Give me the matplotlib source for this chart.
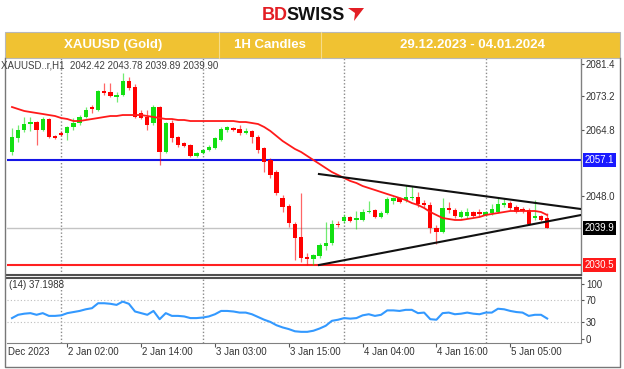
import matplotlib
matplotlib.use('Agg')
import matplotlib.pyplot as plt
from matplotlib.patches import Rectangle, Polygon
from matplotlib.lines import Line2D
from matplotlib.transforms import blended_transform_factory

plt.rcParams['font.family'] = ['Liberation Sans', 'DejaVu Sans']

W, H = 624, 369

# ---------------- data ----------------
opens = [2059.13, 2062.67, 2064.70, 2066.22, 2066.73, 2064.70, 2067.49, 2063.18, 2063.94, 2063.94,
         2065.46, 2066.48, 2068.00, 2070.53, 2069.77, 2074.58, 2074.33, 2073.06, 2073.57, 2077.12,
         2075.60, 2069.01, 2068.00, 2066.48, 2070.53, 2059.13, 2066.48, 2062.93, 2061.41, 2060.90,
         2058.11, 2058.87, 2059.63, 2060.14, 2062.17, 2064.70, 2065.21, 2064.96, 2063.94, 2064.45,
         2062.93, 2060.14, 2057.10, 2054.06, 2047.47, 2045.44, 2040.88, 2037.59, 2032.52, 2032.01,
         2032.77, 2035.31, 2036.07, 2040.88, 2041.64, 2042.66, 2041.90, 2041.90, 2043.92, 2044.43,
         2042.66, 2043.67, 2046.71, 2047.47, 2046.96, 2047.47, 2047.72, 2046.20, 2045.70, 2039.87,
         2038.86, 2044.94, 2044.43, 2042.66, 2042.91, 2043.92, 2043.92, 2043.16, 2043.67, 2043.92,
         2045.70, 2046.20, 2045.19, 2044.68, 2044.43, 2042.40, 2042.91, 2042.42]
highs = [2065.21, 2065.97, 2068.00, 2068.00, 2067.00, 2068.00, 2067.74, 2063.44, 2064.45, 2065.72,
         2067.74, 2068.50, 2070.53, 2071.04, 2074.84, 2076.61, 2076.61, 2074.33, 2079.15, 2078.13,
         2076.36, 2069.77, 2069.77, 2071.04, 2070.78, 2066.73, 2067.24, 2063.18, 2061.66, 2061.15,
         2059.13, 2059.89, 2060.90, 2062.93, 2065.46, 2065.72, 2065.46, 2065.97, 2065.21, 2064.70,
         2063.44, 2060.39, 2057.61, 2054.57, 2048.23, 2045.95, 2041.39, 2048.74, 2033.53, 2033.28,
         2036.07, 2041.39, 2041.90, 2041.64, 2043.42, 2042.91, 2044.18, 2044.68, 2046.71, 2044.68,
         2044.18, 2047.72, 2047.72, 2047.72, 2050.76, 2050.51, 2049.00, 2046.96, 2046.46, 2040.63,
         2047.47, 2046.46, 2044.94, 2044.43, 2044.94, 2044.18, 2044.68, 2044.18, 2045.95, 2047.47,
         2047.47, 2046.71, 2045.70, 2045.19, 2044.94, 2046.96, 2043.16, 2043.78]
lows = [2058.37, 2061.66, 2064.20, 2064.45, 2060.90, 2064.45, 2062.67, 2062.42, 2063.18, 2062.17,
        2064.70, 2065.97, 2067.74, 2069.01, 2069.52, 2073.57, 2073.06, 2071.80, 2073.32, 2074.84,
        2067.74, 2067.49, 2064.70, 2065.97, 2055.83, 2058.87, 2061.66, 2060.39, 2060.39, 2057.86,
        2057.86, 2058.62, 2059.38, 2059.89, 2061.91, 2064.20, 2064.45, 2063.44, 2063.69, 2061.41,
        2058.87, 2054.06, 2052.54, 2048.23, 2043.92, 2040.12, 2031.76, 2031.25, 2030.49, 2030.49,
        2032.27, 2034.29, 2035.56, 2040.12, 2041.14, 2041.39, 2039.62, 2041.64, 2043.67, 2042.40,
        2042.40, 2043.42, 2045.95, 2046.20, 2046.46, 2046.96, 2045.19, 2044.94, 2038.60, 2035.81,
        2038.60, 2043.67, 2042.40, 2042.40, 2042.40, 2042.66, 2042.66, 2042.91, 2043.16, 2043.67,
        2045.19, 2044.43, 2043.67, 2043.67, 2040.63, 2041.90, 2041.64, 2039.89]
closes = [2062.93, 2064.70, 2066.22, 2066.73, 2064.70, 2067.49, 2062.93, 2062.67, 2063.44, 2065.46,
          2066.48, 2068.00, 2069.77, 2070.02, 2074.58, 2074.08, 2073.32, 2073.57, 2077.12, 2075.35,
          2068.00, 2067.74, 2065.97, 2070.53, 2059.13, 2066.48, 2062.67, 2060.90, 2060.65, 2058.11,
          2058.87, 2059.63, 2060.39, 2062.67, 2064.96, 2065.46, 2064.70, 2063.94, 2064.45, 2062.93,
          2059.63, 2056.59, 2053.30, 2048.74, 2045.19, 2041.14, 2037.34, 2032.27, 2032.01, 2033.03,
          2035.56, 2036.07, 2040.88, 2040.63, 2042.66, 2041.64, 2042.40, 2043.92, 2044.18, 2042.66,
          2043.67, 2047.22, 2047.47, 2046.46, 2047.72, 2047.72, 2045.95, 2045.70, 2039.87, 2038.86,
          2044.94, 2044.43, 2042.91, 2043.92, 2043.92, 2042.91, 2043.42, 2043.92, 2044.68, 2045.95,
          2046.20, 2044.94, 2043.92, 2044.18, 2040.88, 2042.91, 2041.90, 2039.90]
ma_values = [2070.53, 2070.02, 2069.52, 2069.26, 2069.01, 2068.76, 2068.50, 2068.25, 2067.74, 2067.49,
             2066.98, 2066.98, 2067.24, 2067.49, 2067.74, 2068.00, 2068.25, 2068.25, 2068.50, 2068.50,
             2068.50, 2068.50, 2068.25, 2068.00, 2067.74, 2067.49, 2067.49, 2067.24, 2067.24, 2066.98,
             2066.98, 2066.98, 2066.98, 2066.98, 2066.98, 2066.98, 2066.98, 2066.73, 2066.73, 2066.48,
             2066.22, 2065.46, 2064.45, 2063.18, 2061.91, 2060.90, 2059.89, 2059.13, 2058.11, 2057.10,
             2056.09, 2055.07, 2054.06, 2053.30, 2052.54, 2051.78, 2051.27, 2050.51, 2050.00, 2049.50,
             2048.99, 2048.48, 2047.98, 2047.47, 2046.96, 2046.20, 2045.70, 2044.94, 2043.92, 2043.16,
             2042.40, 2042.15, 2041.90, 2041.90, 2042.15, 2042.40, 2042.66, 2043.16, 2043.42, 2043.67,
             2043.92, 2044.18, 2044.18, 2044.18, 2044.18, 2044.18, 2043.92, 2043.16]
rsi_values = [38, 44, 46, 47, 44, 47, 42, 42, 43, 47,
              49, 51, 54, 56, 65, 65, 64, 62, 68, 64,
              50, 47, 44, 51, 36, 47, 42, 42, 41, 38,
              38, 39, 41, 45, 51, 51, 50, 48, 48, 45,
              40, 35, 31, 25, 21, 18, 14, 13, 13, 15,
              19, 24, 33, 35, 38, 37, 38, 43, 45, 42,
              44, 52, 52, 51, 53, 53, 47, 48, 36, 35,
              47, 48, 45, 46, 48, 46, 45, 48, 48, 55,
              54, 51, 49, 48, 42, 44, 44, 37.1988]

day_separators = [8, 31, 54, 77]
time_tick_bars = [9, 21, 33, 45, 57, 69, 81]
time_tick_labels = ["2 Jan 02:00", "2 Jan 14:00", "3 Jan 03:00",
                    "3 Jan 15:00", "4 Jan 04:00", "4 Jan 16:00", "5 Jan 05:00"]
first_date_label = "Dec 2023"
price_ticks = [2081.4, 2073.2, 2064.8, 2048.0]
resistance_level = 2057.1
support_level = 2030.5
last_price = 2039.90
tri_x = [49.9, 92.5]
tri_upper = [2053.55, 2044.68]
tri_lower = [2030.49, 2043.16]
rsi_ticks = [100, 70, 30, 0]
rsi_grid = [70, 30]

header_cells = ["XAUUSD (Gold)", "1H Candles", "29.12.2023 - 04.01.2024"]
info_text = "XAUUSD..r,H1  2042.42 2043.78 2039.89 2039.90"
rsi_text = "(14) 37.1988"

# ---------------- figure ----------------
def fx(x):
    return x / W

def fy(y):
    return 1 - y / H

fig = plt.figure(figsize=(W / 100, H / 100), dpi=100)
fig.patch.set_facecolor('white')

# header logo
fig.text(fx(262), fy(15), "BD", color='#E31E24', fontsize=13, fontweight='bold',
         ha='left', va='center')
fig.text(fx(286), fy(15), "SWISS", color='#111111', fontsize=13, fontweight='bold',
         ha='left', va='center')
fig.patches.append(Polygon([(fx(348), fy(8)), (fx(364), fy(8)), (fx(354), fy(21)), (fx(355), fy(13))],
                           closed=True, transform=fig.transFigure, facecolor='#E31E24', edgecolor='none'))

# yellow header bar
fig.patches.append(Rectangle((fx(5), fy(58)), (620 - 5) / W, 26 / H, transform=fig.transFigure,
                             facecolor='#F0C232', edgecolor='#B8B8B8', linewidth=0.8))
for xd in [219, 321]:
    fig.lines.append(Line2D([fx(xd), fx(xd)], [fy(32), fy(58)], transform=fig.transFigure,
                            color='#F6DC8A', lw=0.8))
for txt, xc in zip(header_cells, [113, 270, 473]):
    fig.text(fx(xc), fy(45), txt, color='white', fontsize=9.5, fontweight='bold',
             ha='center', va='center')

# outer frame
fig.lines.append(Line2D([fx(5), fx(5), fx(620), fx(620)], [fy(58), fy(367), fy(367), fy(58)],
                        transform=fig.transFigure, color='#777777', lw=1))

# ---------------- main price panel ----------------
xlim = (-0.81, 92.5)
ax = fig.add_axes([fx(7), fy(275), (581 - 7) / W, (275 - 58) / H])
ax.set_xlim(*xlim)
ax.set_ylim(2027.96, 2082.95)

for d in day_separators:
    ax.axvline(d, color='#8A8A8A', ls=(0, (1, 1.5)), lw=1, zorder=1)

ax.axhline(resistance_level, color='#1515E6', lw=1.5, zorder=2)
ax.axhline(support_level, color='#FF2020', lw=1.5, zorder=2)
ax.axhline(last_price, color='#C4C4C4', lw=1, zorder=2)

up_c, dn_c = '#12E012', '#FF0000'
for i, (o, h, l, c) in enumerate(zip(opens, highs, lows, closes)):
    col = up_c if c >= o else dn_c
    ax.vlines(i, l, h, color=col, lw=0.9, alpha=0.6, zorder=3)
    bottom = min(o, c)
    height = max(abs(c - o), 0.35)
    ax.bar(i, height, bottom=bottom, width=0.7, color=col, edgecolor='none', zorder=4)

ax.plot(range(len(ma_values)), ma_values, color='#FF1A1A', lw=1.3, zorder=5)

ax.plot(tri_x, tri_upper, color='#111111', lw=1.5, zorder=6)
ax.plot(tri_x, tri_lower, color='#111111', lw=1.5, zorder=6)

ax.set_xticks([])
ax.yaxis.tick_right()
ax.set_yticks(price_ticks)
ax.set_yticklabels([f"{v:.1f}" for v in price_ticks])
ax.tick_params(axis='y', length=2, pad=1.5, labelsize=7, color='#555555', labelcolor='#333333')
for s in ['left', 'top']:
    ax.spines[s].set_visible(False)
ax.spines['right'].set_color('#808080')
ax.spines['right'].set_linewidth(1)
ax.spines['bottom'].set_color('#505050')
ax.spines['bottom'].set_linewidth(1.5)

ytr = ax.get_yaxis_transform()
for val, txt, bg in [(resistance_level, "2057.1", '#1A1AFF'),
                     (last_price, "2039.9", '#000000'),
                     (support_level, "2030.5", '#FF1A1A')]:
    ax.text(1.006, val, txt, transform=ytr, ha='left', va='center', fontsize=7, color='white',
            bbox=dict(boxstyle='square,pad=0.18', fc=bg, ec='none'), clip_on=False)

fig.text(fx(1), fy(65), info_text, fontsize=7, color='#404040', ha='left', va='center')

# ---------------- RSI panel ----------------
ax2 = fig.add_axes([fx(7), fy(343), (581 - 7) / W, (343 - 278) / H])
ax2.set_xlim(*xlim)
ax2.set_ylim(-7.3, 110.9)
for d in day_separators:
    ax2.axvline(d, color='#8A8A8A', ls=(0, (1, 1.5)), lw=1, zorder=1)
for g in rsi_grid:
    ax2.axhline(g, color='#BDBDBD', ls=(0, (1, 2)), lw=0.8, zorder=1)
ax2.plot(range(len(rsi_values)), rsi_values, color='#3399FF', lw=1.5, zorder=3)

ax2.yaxis.tick_right()
ax2.set_yticks(rsi_ticks)
ax2.set_yticklabels([str(v) for v in rsi_ticks])
ax2.tick_params(axis='y', length=2, pad=1.5, labelsize=7, color='#555555', labelcolor='#333333')
ax2.set_xticks(time_tick_bars)
ax2.set_xticklabels([])
ax2.tick_params(axis='x', length=3, color='#555555')
ax2.spines['left'].set_visible(False)
ax2.spines['top'].set_color('#505050')
ax2.spines['top'].set_linewidth(1.5)
ax2.spines['right'].set_color('#808080')
ax2.spines['bottom'].set_color('#808080')

xtr = blended_transform_factory(ax2.transData, ax2.transAxes)
for b, lbl in zip(time_tick_bars, time_tick_labels):
    ax2.text(b + 0.15, (343 - 352) / 65, lbl, transform=xtr, ha='left', va='center',
             fontsize=7, color='#333333', clip_on=False)
fig.text(fx(8), fy(352), first_date_label, fontsize=7, color='#333333', ha='left', va='center')

fig.text(fx(9), fy(285), rsi_text, fontsize=7, color='#333333', ha='left', va='center')

fig.savefig('out.png', dpi=100, facecolor='white')
